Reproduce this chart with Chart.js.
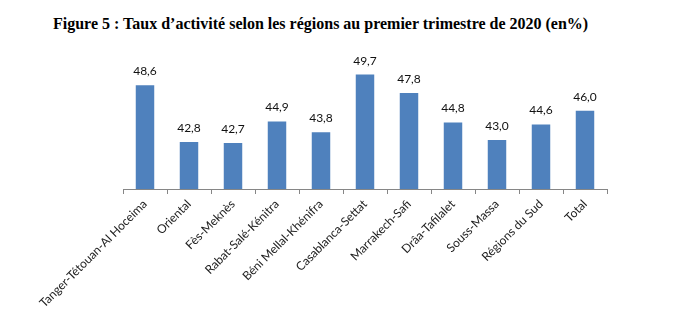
<!DOCTYPE html>
<html lang="fr">
<head>
<meta charset="utf-8">
<script src="https://cdn.jsdelivr.net/npm/chart.js@4/dist/chart.umd.min.js"></script>
<style>
  html, body { margin: 0; padding: 0; background: #fff; }
  #wrap { position: relative; width: 673px; height: 325px; }
  #title {
    position: absolute; left: 53px; top: 15px;
    font-family: "Liberation Serif", serif; font-weight: bold; font-size: 16px;
    line-height: 18px; color: #000; white-space: nowrap;
  }
  canvas { position: absolute; left: 0; top: 0; }
</style>
</head>
<body>
<div id="wrap">
  <div id="title">Figure 5 : Taux d’activité selon les régions au premier trimestre de 2020 (en%)</div>
  <canvas id="activityChart" width="673" height="325"></canvas>
</div>
<script>
// Taux d'activité par région, T1 2020 (en %)
const regions = [
  'Tanger-Tétouan-Al Hoceima', 'Oriental', 'Fès-Meknès', 'Rabat-Salé-Kénitra',
  'Béni Mellal-Khénifra', 'Casablanca-Settat', 'Marrakech-Safi', 'Drâa-Tafilalet',
  'Souss-Massa', 'Régions du Sud', 'Total'
];
const tauxActivite = [48.6, 42.8, 42.7, 44.9, 43.8, 49.7, 47.8, 44.8, 43.0, 44.6, 46.0];

const yMin = 38;
const yMax = 52;

const fmt = v => v.toFixed(1).replace('.', ',');

// Value labels above each bar
const barValues = {
    id: 'barValues',
    afterDatasetsDraw(chart) {
        const ctx = chart.ctx;
        const meta = chart.getDatasetMeta(0);
        ctx.save();
        ctx.font = '12px Lato, "Open Sans", sans-serif';
        ctx.fillStyle = '#111';
        ctx.textAlign = 'center';
        ctx.textBaseline = 'alphabetic';
        meta.data.forEach((bar, i) => {
            ctx.fillText(fmt(chart.data.datasets[0].data[i]), bar.x, bar.y - 10);
        });
        ctx.restore();
    }
};

new Chart(document.getElementById('activityChart'), {
    type: 'bar',
    data: {
        labels: regions,
        datasets: [{
            data: tauxActivite,
            backgroundColor: '#4F81BD',
            barPercentage: 0.42,
            categoryPercentage: 1.0
        }]
    },
    options: {
        responsive: false,
        animation: false,
        layout: { padding: { left: 123, right: 66, top: 52, bottom: 0 } },
        plugins: {
            legend: { display: false },
            tooltip: { enabled: false }
        },
        scales: {
            x: {
                grid: {
                    display: true,
                    drawOnChartArea: false,
                    drawTicks: true,
                    tickLength: 5,
                    color: '#868686'
                },
                border: { color: '#868686', width: 1 },
                ticks: {
                    minRotation: 45,
                    maxRotation: 45,
                    padding: 3,
                    color: '#222',
                    font: { family: 'Lato, "Open Sans", sans-serif', size: 12 }
                },
                afterFit: function (scale) {
                    scale.height = 136;
                }
            },
            y: {
                display: false,
                min: yMin,
                max: yMax
            }
        }
    },
    plugins: [barValues]
});
</script>
</body>
</html>
